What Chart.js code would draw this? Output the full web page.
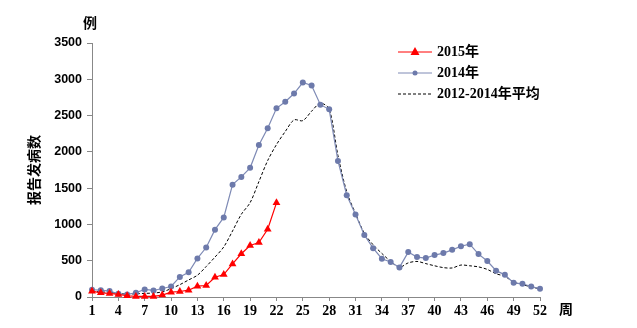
<!DOCTYPE html>
<html>
<head>
<meta charset="utf-8">
<script src="https://cdn.jsdelivr.net/npm/chart.js@4"></script>
<style>
  html, body { margin: 0; padding: 0; background: #fff; }
  #chart { display: block; }
</style>
</head>
<body>
<canvas id="chart" width="637" height="328"></canvas>
<script>
// weeks on the x axis
const weeks = [1, 2, 3, 4, 5, 6, 7, 8, 9, 10, 11, 12, 13, 14, 15, 16, 17, 18, 19, 20,
    21, 22, 23, 24, 25, 26, 27, 28, 29, 30, 31, 32, 33, 34, 35, 36, 37, 38, 39, 40,
    41, 42, 43, 44, 45, 46, 47, 48, 49, 50, 51, 52];

// reported cases per week
const cases2015 = [80, 58, 49, 35, 17, 8, 8, 8, 26, 67, 76, 94, 149, 158, 272, 309, 455, 596, 709, 750,
    933, 1297];

const cases2014 = [100, 94, 81, 45, 35, 58, 104, 90, 117, 145, 277, 340, 531, 682, 928, 1097, 1548, 1655, 1780, 2094,
    2326, 2600, 2690, 2804, 2955, 2914, 2650, 2586, 1875, 1402, 1138, 855, 673, 527, 482, 408, 619, 550, 537, 578,
    605, 650, 700, 728, 591, 496, 363, 305, 195, 182, 145, 113];

const avg2012to2014 = [80, 70, 65, 50, 40, 45, 50, 55, 70, 115, 170, 235, 300, 420, 550, 690, 910, 1140, 1300, 1590,
    1880, 2100, 2280, 2440, 2430, 2560, 2670, 2590, 1950, 1450, 1150, 880, 720, 600, 490, 410, 470, 490, 460, 430,
    405, 400, 440, 430, 415, 380, 320, 285, 205, 170, 140, 110];

const yTicks = [0, 500, 1000, 1500, 2000, 2500, 3000, 3500];

const seriesNames = ['2015年', '2014年', '2012-2014年平均'];

const BLUE = '#6d7aab';
const BLUE_LINE = '#7e8ab5';
const RED = '#ff0000';

function toPoints(values) {
    return values.map((v, i) => ({ x: weeks[i], y: v }));
}

// legend and the loose axis captions are drawn by hand
const extras = {
    id: 'extras',
    afterDraw(chart) {
        const ctx = chart.ctx;
        ctx.save();
        ctx.fillStyle = '#000';
        ctx.textBaseline = 'middle';
        ctx.font = 'bold 14px "Noto Sans CJK SC", sans-serif';
        ctx.textAlign = 'center';
        ctx.fillText('例', 90, 23);
        ctx.fillText('周', 566, 309);

        ctx.save();
        ctx.translate(34, 170);
        ctx.rotate(-Math.PI / 2);
        ctx.fillText('报告发病数', 0, 0);
        ctx.restore();

        // legend rows
        const rows = [52, 73, 94];
        const x0 = 398, x1 = 432;
        ctx.textAlign = 'left';
        ctx.font = 'bold 14px "Liberation Serif", "Noto Sans CJK SC", serif';
        rows.forEach((y, i) => {
            ctx.beginPath();
            ctx.lineWidth = 1;
            if (i === 0) ctx.strokeStyle = RED;
            else if (i === 1) ctx.strokeStyle = BLUE_LINE;
            else { ctx.strokeStyle = '#000'; ctx.setLineDash([3, 2]); }
            ctx.moveTo(x0, y);
            ctx.lineTo(x1, y);
            ctx.stroke();
            ctx.setLineDash([]);
            const mx = (x0 + x1) / 2;
            if (i === 0) {
                ctx.fillStyle = RED;
                ctx.beginPath();
                ctx.moveTo(mx, y - 5);
                ctx.lineTo(mx + 4.5, y + 3);
                ctx.lineTo(mx - 4.5, y + 3);
                ctx.closePath();
                ctx.fill();
            } else if (i === 1) {
                ctx.fillStyle = BLUE;
                ctx.beginPath();
                ctx.arc(mx, y, 2.5, 0, Math.PI * 2);
                ctx.fill();
            }
            ctx.fillStyle = '#000';
            ctx.fillText(seriesNames[i], 437, y);
        });
        ctx.restore();
    }
};

new Chart(document.getElementById('chart'), {
    type: 'line',
    data: {
        datasets: [
            {
                label: seriesNames[0],
                data: toPoints(cases2015),
                borderColor: RED,
                backgroundColor: RED,
                borderWidth: 1.2,
                pointStyle: 'triangle',
                pointRadius: 4.5,
                pointBorderWidth: 0,
                clip: 8,
                order: 0
            },
            {
                label: seriesNames[1],
                data: toPoints(cases2014),
                borderColor: BLUE_LINE,
                backgroundColor: BLUE,
                borderWidth: 1.2,
                pointStyle: 'circle',
                pointRadius: 3,
                pointBorderWidth: 0,
                clip: 8,
                order: 1
            },
            {
                label: seriesNames[2],
                data: toPoints(avg2012to2014),
                borderColor: '#000',
                borderWidth: 1,
                borderDash: [3, 2],
                pointRadius: 0,
                tension: 0.3,
                order: 2
            }
        ]
    },
    options: {
        responsive: false,
        animation: false,
        layout: {
            padding: { left: 0, right: 97, top: 43, bottom: 0 }
        },
        plugins: {
            legend: { display: false },
            tooltip: { enabled: false }
        },
        scales: {
            x: {
                type: 'linear',
                min: 1,
                max: 52,
                afterFit(scale) { scale.height = 31; },
                border: { color: '#888', width: 1 },
                grid: { drawOnChartArea: false, drawTicks: true, tickLength: 4, color: '#888' },
                ticks: {
                    stepSize: 3,
                    autoSkip: false,
                    maxRotation: 0,
                    padding: 2,
                    color: '#000',
                    font: { family: '"Liberation Serif", serif', size: 14, weight: 'bold' }
                }
            },
            y: {
                min: 0,
                max: 3500,
                afterFit(scale) { scale.width = 92; },
                afterBuildTicks(scale) { scale.ticks = yTicks.map(v => ({ value: v })); },
                border: { color: '#888', width: 1 },
                grid: { drawOnChartArea: false, drawTicks: true, tickLength: 5, color: '#888' },
                ticks: {
                    padding: 5,
                    color: '#000',
                    callback: v => String(v),
                    font: { family: '"Liberation Sans", Arial, sans-serif', size: 12.5, weight: 'bold' }
                }
            }
        }
    },
    plugins: [extras]
});
</script>
</body>
</html>
